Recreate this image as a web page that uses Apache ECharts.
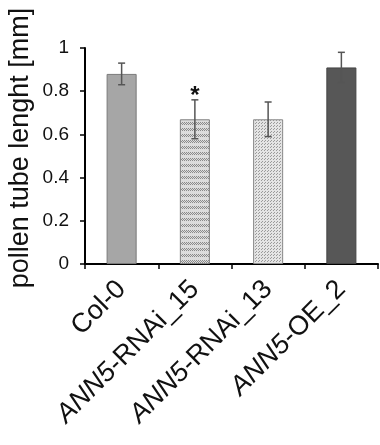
<!DOCTYPE html>
<html>
<head>
<meta charset="utf-8">
<script src="https://cdn.jsdelivr.net/npm/echarts@6/dist/echarts.min.js"></script>
<style>
  html, body { margin: 0; padding: 0; background: #fff; }
  #chart { width: 380px; height: 445px; }
</style>
</head>
<body>
<div id="chart"></div>
<script>
const categories = ['Col-0', 'ANN5-RNAi_15', 'ANN5-RNAi_13', 'ANN5-OE_2']
const means = [0.88, 0.67, 0.67, 0.91]
const errors = [0.05, 0.09, 0.08, 0.07]
const marks = ['', '*', '', '']
const yTicks = [0, 0.2, 0.4, 0.6, 0.8, 1]

const font = '"Liberation Sans", Arial, sans-serif'

// hatched / dotted fills for the RNAi lines
const makePattern = (kind) => {
  const c = document.createElement('canvas')
  const ctx = c.getContext('2d')
  if (kind === 'stripe') {
    c.width = 6; c.height = 6
    ctx.fillStyle = '#dcdcdc'
    ctx.fillRect(0, 0, 6, 6)
    ctx.strokeStyle = '#8a8a8a'
    ctx.lineWidth = 1
    for (let x = -6; x < 12; x += 2) {
      ctx.beginPath()
      ctx.moveTo(x, 5)
      ctx.lineTo(x + 3, 2)
      ctx.stroke()
    }
  } else {
    c.width = 3; c.height = 3
    ctx.fillStyle = '#e4e4e4'
    ctx.fillRect(0, 0, 3, 3)
    ctx.fillStyle = '#9a9a9a'
    ctx.fillRect(0, 0, 1, 1)
    ctx.fillRect(1, 2, 1, 1)
  }
  return { image: c, repeat: 'repeat' }
}

const fills = ['#a6a6a6', makePattern('stripe'), makePattern('dots'), '#575757']
const borders = ['#7a7a7a', '#808080', '#8a8a8a', '#444444']

const chart = echarts.init(document.getElementById('chart'), null, { renderer: 'canvas' })

const option = {
  animation: false,
  backgroundColor: '#fff',
  grid: { left: 85, right: 2, top: 48, bottom: 181 },
  xAxis: {
    type: 'category',
    data: categories,
    axisLine: { lineStyle: { color: '#000', width: 2 } },
    axisTick: { show: true, length: 5, lineStyle: { color: '#000', width: 1.5 } },
    axisLabel: {
      rotate: 45,
      margin: 21,
      color: '#111',
      fontSize: 27,
      fontFamily: font,
      formatter: (v) => v.startsWith('ANN5') ? '{i|ANN5}{n|' + v.slice(4) + '}' : '{n|' + v + '}',
      rich: {
        i: { fontSize: 27, fontFamily: font, fontStyle: 'italic', color: '#111' },
        n: { fontSize: 27, fontFamily: font, color: '#111' }
      }
    }
  },
  yAxis: {
    type: 'value',
    min: 0,
    max: 1,
    interval: 0.2,
    splitLine: { show: false },
    axisLine: { show: true, lineStyle: { color: '#000', width: 2 } },
    axisTick: { show: true, length: 5, lineStyle: { color: '#000', width: 1.5 } },
    axisLabel: {
      margin: 16,
      color: '#111',
      fontSize: 19,
      fontFamily: font,
      formatter: (v) => String(yTicks.find((t) => Math.abs(t - v) < 1e-6) ?? v)
    }
  },
  graphic: [{
    type: 'text',
    x: 21,
    y: 148,
    rotation: Math.PI / 2,
    style: {
      text: 'pollen tube lenght [mm]',
      fontSize: 27,
      fontFamily: font,
      fill: '#111',
      align: 'center',
      verticalAlign: 'middle'
    }
  }],
  series: [
    {
      type: 'bar',
      barWidth: '41%',
      data: means.map((v, i) => ({
        value: v,
        itemStyle: { color: fills[i], borderColor: borders[i], borderWidth: 1 }
      }))
    },
    {
      type: 'custom',
      z: 10,
      data: means.map((v, i) => [i, v - errors[i], v + errors[i], marks[i]]),
      renderItem: (params, api) => {
        const lo = api.coord([api.value(0), api.value(1)])
        const hi = api.coord([api.value(0), api.value(2)])
        const cap = 3.5
        const style = { stroke: '#555', lineWidth: 1.5 }
        const children = [
          { type: 'line', shape: { x1: hi[0], y1: hi[1], x2: lo[0], y2: lo[1] }, style },
          { type: 'line', shape: { x1: hi[0] - cap, y1: hi[1], x2: hi[0] + cap, y2: hi[1] }, style },
          { type: 'line', shape: { x1: lo[0] - cap, y1: lo[1], x2: lo[0] + cap, y2: lo[1] }, style }
        ]
        const mark = marks[params.dataIndex]
        if (mark) {
          children.push({
            type: 'text',
            x: hi[0],
            y: hi[1] - 3,
            style: {
              text: mark,
              fontSize: 24,
              fontWeight: 'bold',
              fontFamily: font,
              fill: '#111',
              align: 'center',
              verticalAlign: 'middle'
            }
          })
        }
        return { type: 'group', children }
      }
    }
  ]
}

chart.setOption(option)
</script>
</body>
</html>
